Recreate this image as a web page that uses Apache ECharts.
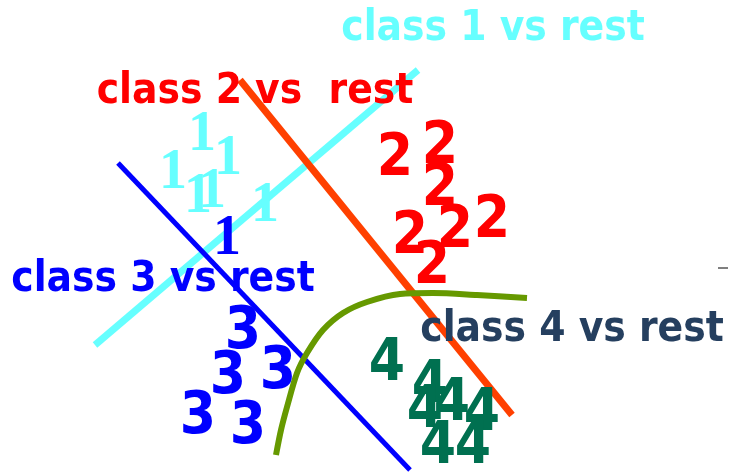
<!DOCTYPE html>
<html>
<head>
    <meta charset="utf-8" />
    <title>one vs rest</title>
    <script src="https://cdn.jsdelivr.net/npm/echarts@6/dist/echarts.min.js"></script>
    <style>
        html, body { margin: 0; padding: 0; background: #fff; }
    </style>
</head>
<body>
    <div id="main" style="width: 731px;height:472px;"></div>
    <script type="text/javascript">
        // sample points per class (x, y in picture units)
        const ones = [[202, 136], [228, 160], [173, 174], [198, 198], [212, 193], [265, 207]];
        const blueOnes = [[227, 240]];
        const twos = [[395, 160], [440, 148], [440, 190], [410, 238], [455, 232], [492, 222], [432, 268]];
        const threes = [[243, 333], [228, 378], [278, 373], [198, 418], [248, 428]];
        const fours = [[387, 365], [430, 387], [425, 412], [452, 405], [482, 415], [438, 448], [473, 448]];

        // decision boundaries
        const cyanLine = [[95, 345], [418, 70]];
        const orangeLine = [[240, 80], [512, 415]];
        const blueLine = [[118, 163], [410, 470]];
        const greenCurve = [[276, 455], [281, 430], [287, 407], [297, 373], [307, 353], [323, 330], [343, 313], [367, 302], [400, 294], [433, 293], [477, 295], [527, 298]];
        const dash = [[718, 268], [728, 268]];

        // captions
        const captions = ['class 1 vs rest', 'class 2 vs  rest', 'class 3 vs rest', 'class 4 vs rest'];
        const captionPos = [[493, 29], [255, 92], [163, 280], [572, 330]];
        const captionColors = ['#66FFFF', '#FF0000', '#0000FF', '#253F5F'];

        const font = '"DejaVu Sans Condensed", sans-serif';
        const serif = '"Liberation Serif", serif';

        var myChart = echarts.init(document.getElementById('main'));

        function lineSeries(data, color, width, smooth) {
            return {
                type: 'line',
                data: data,
                symbol: 'none',
                smooth: smooth || false,
                silent: true,
                lineStyle: { color: color, width: width, cap: 'butt' },
                z: 2
            };
        }

        function digitSeries(data, digit, color, size, family) {
            return {
                type: 'scatter',
                data: data.map(d => [d[0], d[1], digit]),
                symbolSize: 0,
                silent: true,
                itemStyle: { opacity: 1 },
                label: {
                    show: true,
                    position: 'inside',
                    formatter: p => p.value[2],
                    color: color,
                    opacity: 1,
                    fontSize: size,
                    fontWeight: 'bold',
                    fontFamily: family || font
                },
                z: 3
            };
        }

        var option = {
            animation: false,
            grid: { left: 0, right: 0, top: 0, bottom: 0 },
            xAxis: { type: 'value', min: 0, max: 731, show: false },
            yAxis: { type: 'value', min: 0, max: 472, inverse: true, show: false },
            series: [
                lineSeries(cyanLine, '#66FFFF', 7),
                lineSeries(orangeLine, '#FF4000', 7),
                lineSeries(blueLine, '#0000FF', 5),
                lineSeries(greenCurve, '#669900', 6, 0.3),
                lineSeries(dash, '#000000', 1),
                digitSeries(ones, '1', '#66FFFF', 56, serif),
                digitSeries(blueOnes, '1', '#0000FF', 56, serif),
                digitSeries(twos, '2', '#FF0000', 58),
                digitSeries(threes, '3', '#0000FF', 58),
                digitSeries(fours, '4', '#007050', 58),
                {
                    type: 'scatter',
                    data: captionPos.map((p, i) => ({
                        value: [p[0], p[1]],
                        label: { color: captionColors[i] }
                    })),
                    symbolSize: 0,
                    silent: true,
                    itemStyle: { opacity: 1 },
                    label: {
                        show: true,
                        position: 'inside',
                        formatter: p => captions[p.dataIndex],
                        opacity: 1,
                        fontSize: 42,
                        fontWeight: 'bold',
                        fontFamily: font
                    },
                    z: 4
                }
            ]
        };

        myChart.setOption(option);
    </script>
</body>
</html>
